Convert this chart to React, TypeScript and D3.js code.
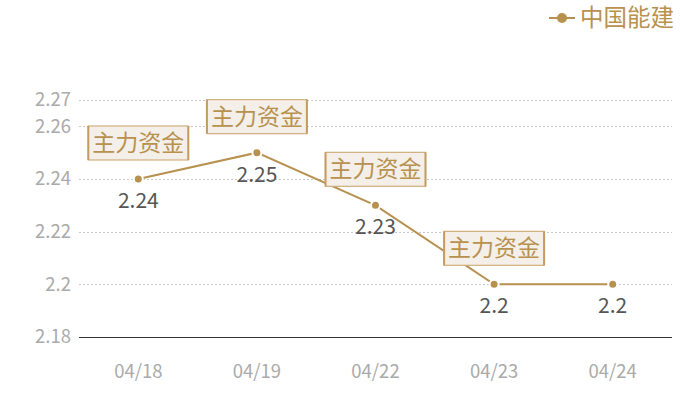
import React from "react";
import * as d3 from "d3";

const dates = ["04/18", "04/19", "04/22", "04/23", "04/24"];
const values = [2.24, 2.25, 2.23, 2.2, 2.2];
const valueLabels = ["2.24", "2.25", "2.23", "2.2", "2.2"];
const yTicks = [2.18, 2.2, 2.22, 2.24, 2.26, 2.27];
const yTickLabels = ["2.18", "2.2", "2.22", "2.24", "2.26", "2.27"];
const annotated = [true, true, true, true, false];
const annotationText = "主力资金";
const seriesName = "中国能建";

const W = 700;
const H = 400;
const LEFT = 79;
const RIGHT = 672;
const TOP = 100;
const BOTTOM = 337;
const GOLD = "#b8914f";
const FONT = "'Noto Sans CJK SC', 'Noto Sans', sans-serif";

export default function App() {
  const x = d3.scaleBand<string>().domain(dates).range([LEFT, RIGHT]);
  const y = d3.scaleLinear().domain([2.18, 2.27]).range([BOTTOM, TOP]);
  const cx = (d: string) => (x(d) as number) + x.bandwidth() / 2;
  const line = d3
    .line<number>()
    .x((_, i) => cx(dates[i]))
    .y((v) => y(v));

  return (
    <div style={{ position: "absolute", left: 0, top: 0 }}>
      <svg width={W} height={H} style={{ display: "block", fontFamily: FONT }}>
        <rect width={W} height={H} fill="#fff" />
        {yTicks.map((t, i) => (
          <g key={t}>
            {i > 0 && (
              <line
                x1={LEFT}
                x2={RIGHT}
                y1={Math.round(y(t)) + 0.5}
                y2={Math.round(y(t)) + 0.5}
                stroke="#c8c8c8"
                strokeWidth={1}
                strokeDasharray="2,2"
              />
            )}
            <text
              x={71}
              y={y(t)}
              dy="0.35em"
              textAnchor="end"
              fontSize={18.5}
              fill="#aaaaaa"
            >
              {yTickLabels[i]}
            </text>
          </g>
        ))}
        <line
          x1={LEFT}
          x2={RIGHT}
          y1={BOTTOM + 0.5}
          y2={BOTTOM + 0.5}
          stroke="#333"
          strokeWidth={1}
          shapeRendering="crispEdges"
        />
        {dates.map((d) => (
          <text key={d} x={cx(d)} y={378} textAnchor="middle" fontSize={18.5} fill="#aaaaaa">
            {d}
          </text>
        ))}
        <path d={line(values) || ""} fill="none" stroke={GOLD} strokeWidth={2} />
        {values.map((v, i) => (
          <circle key={i} cx={cx(dates[i])} cy={y(v)} r={4.5} fill={GOLD} stroke="#fff" strokeWidth={2} />
        ))}
        {values.map((v, i) => (
          <text
            key={"v" + i}
            x={cx(dates[i])}
            y={y(v) + 29}
            textAnchor="middle"
            fontSize={21}
            fill="#555555"
          >
            {valueLabels[i]}
          </text>
        ))}
        {values.map((v, i) =>
          annotated[i] ? (
            <g key={"a" + i} transform={`translate(${cx(dates[i])},${y(v)})`}>
              <rect x={-50} y={-53} width={100} height={34} fill="#f4efe8" stroke="#cfae7e" strokeWidth={1.2} />
              <line x1={-50} x2={-50} y1={-53} y2={-19} stroke="#c49c62" strokeWidth={2} />
              <line x1={50} x2={50} y1={-53} y2={-19} stroke="#c49c62" strokeWidth={2} />
              <text x={0} y={-28} textAnchor="middle" fontSize={23} fill={GOLD}>
                {annotationText}
              </text>
            </g>
          ) : null
        )}
        <line x1={549} x2={575} y1={18} y2={18} stroke={GOLD} strokeWidth={2} />
        <circle cx={562} cy={18} r={5} fill={GOLD} />
        <text x={580} y={18} dy="0.36em" fontSize={23.5} fill={GOLD}>
          {seriesName}
        </text>
      </svg>
    </div>
  );
}
